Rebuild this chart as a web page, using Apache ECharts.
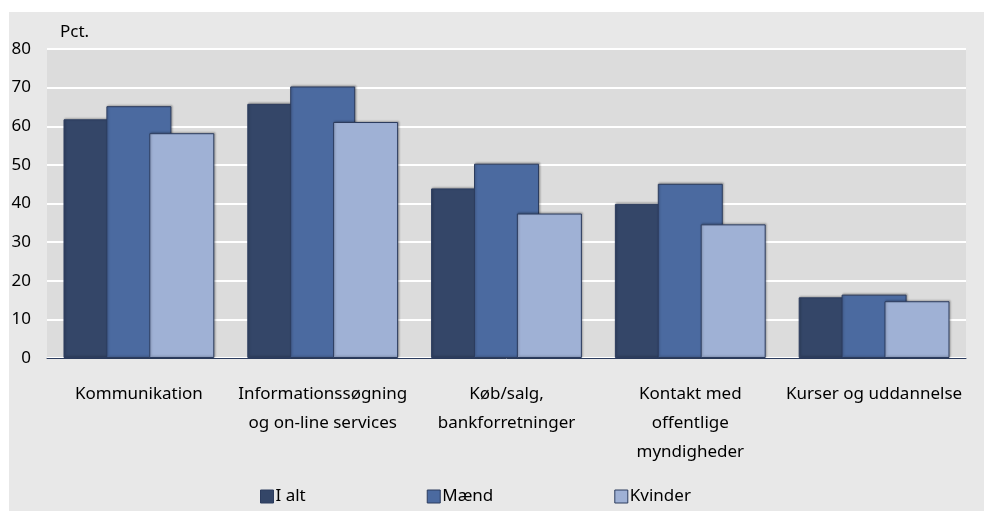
<!DOCTYPE html>
<html>
<head>
<meta charset="utf-8">
<script src="https://cdn.jsdelivr.net/npm/echarts@6/dist/echarts.min.js"></script>
<style>
  html, body { margin: 0; padding: 0; background: #fff; }
  #chart { width: 984px; height: 511px; }
</style>
</head>
<body>
<div id="chart"></div>
<script>
const categories = [
  'Kommunikation',
  'Informationssøgning\nog on-line services',
  'Køb/salg,\nbankforretninger',
  'Kontakt med\noffentlige\nmyndigheder',
  'Kurser og uddannelse'
]
const iAlt = [61.8, 65.8, 43.9, 39.9, 15.7]
const maend = [65.2, 70.3, 50.3, 45.1, 16.4]
const kvinder = [58.2, 61.1, 37.4, 34.6, 14.7]
const yTicks = [0, 10, 20, 30, 40, 50, 60, 70, 80]

const font = "'Noto Sans', sans-serif"
const borderColor = '#2c3c5e'

function barSeries(name, data, color) {
  return {
    name: name,
    type: 'bar',
    data: data,
    barWidth: 65,
    barGap: '-34%',
    itemStyle: {
      color: color,
      borderColor: borderColor,
      borderWidth: 1,
      shadowColor: 'rgba(0,0,0,0.25)',
      shadowBlur: 2,
      shadowOffsetX: 1,
      shadowOffsetY: -1,
    },
  }
}

const chart = echarts.init(document.getElementById('chart'))
chart.setOption({
  animation: false,
  backgroundColor: '#fff',
  textStyle: { fontFamily: font },
  graphic: [{
    type: 'rect',
    z: -10,
    shape: { x: 9, y: 12, width: 975, height: 499 },
    style: { fill: '#e8e8e8' },
  }],
  grid: {
    left: 47,
    right: 18,
    top: 49,
    bottom: 153,
    show: true,
    backgroundColor: '#dcdcdc',
    borderWidth: 0,
  },
  legend: {
    left: 255,
    top: 483,
    itemWidth: 13,
    itemHeight: 13,
    itemGap: 121,
    icon: 'rect',
    textStyle: { fontSize: 17, color: '#000', fontFamily: font, padding: [0, 0, 0, -3] },
    itemStyle: { borderColor: borderColor, borderWidth: 1 },
  },
  xAxis: {
    type: 'category',
    data: categories,
    axisTick: { show: false },
    axisLine: { lineStyle: { color: '#2c3c5e', width: 1 } },
    axisLabel: {
      interval: 0,
      margin: 22,
      fontSize: 17,
      lineHeight: 29,
      color: '#000',
      fontFamily: font,
    },
  },
  yAxis: {
    type: 'value',
    min: 0,
    max: 80,
    interval: 10,
    name: 'Pct.',
    nameLocation: 'end',
    nameGap: 8,
    nameTextStyle: { fontSize: 17, color: '#000', align: 'left', padding: [0, 0, 0, 13], fontFamily: font },
    axisLine: { show: false },
    axisTick: { show: false },
    axisLabel: {
      margin: 16,
      fontSize: 17,
      color: '#000',
      fontFamily: font,
      formatter: v => (yTicks.includes(v) ? String(v) : ''),
    },
    splitLine: { lineStyle: { color: '#ffffff', width: 2 } },
  },
  series: [
    barSeries('I alt', iAlt, '#344668'),
    barSeries('Mænd', maend, '#4b6aa0'),
    barSeries('Kvinder', kvinder, '#9fb1d5'),
  ],
})
</script>
</body>
</html>
